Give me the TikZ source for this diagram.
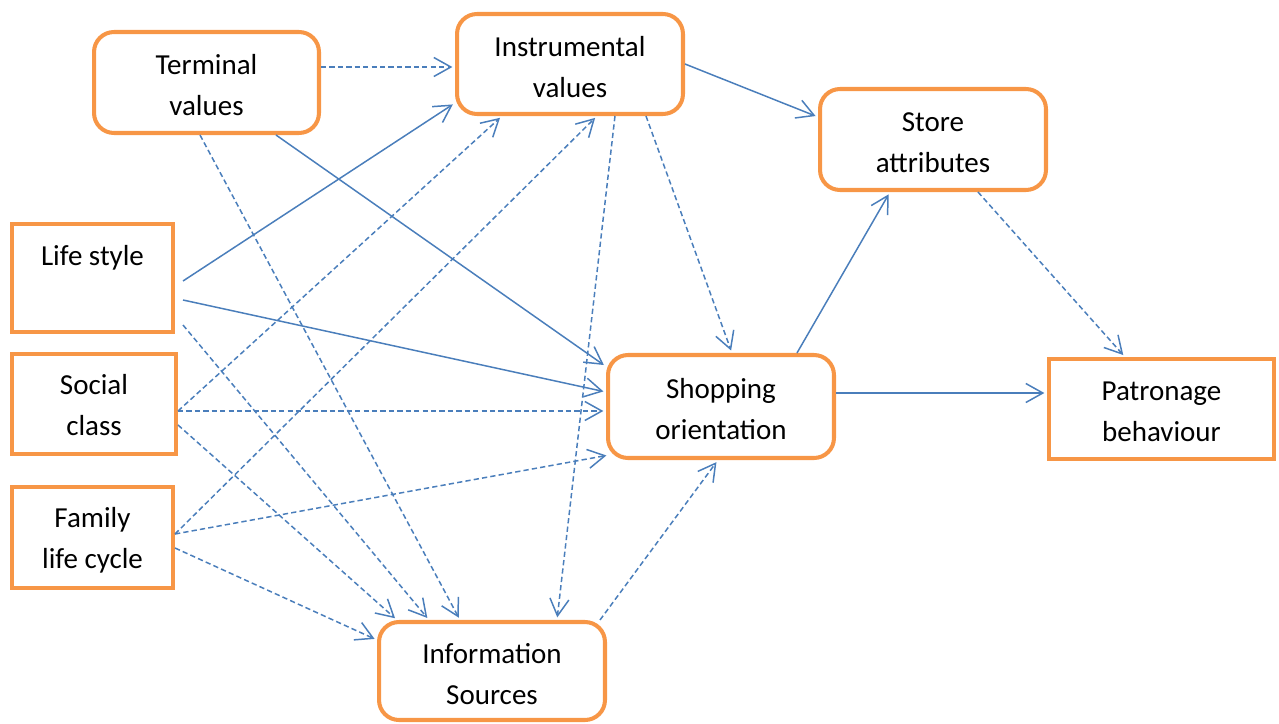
\documentclass[tikz,border=0pt]{standalone}
\usepackage{fontspec}
\setmainfont{Carlito}
\usetikzlibrary{arrows.meta}
\definecolor{boxorange}{HTML}{F79646}
\definecolor{linkblue}{HTML}{4A7EBB}
\newcommand{\boxtext}[2][-2.3pt]{\raisebox{#1}[\height][\depth]{\begin{tabular}{@{}c@{}}#2\end{tabular}}}

\begin{document}
\begin{tikzpicture}[x=0.02cm, y=-0.02cm,
  rbox/.style={rectangle, draw=boxorange, line width=2.3pt, rounded corners=0.4cm,
    align=center, minimum width=4.52cm, minimum height=2cm, inner sep=0pt,
    font=\fontsize{16.5}{23.3}\selectfont},
  sbox/.style={rbox, sharp corners},
  link/.style={->, draw=linkblue, line width=0.85pt, shorten >=1.5pt},
  dlink/.style={link, dash pattern=on 3pt off 1.8pt},
  >={Straight Barb[length=3.4mm,width=3.8mm]}
]
\useasboundingbox (0,0) rectangle (1279,724);
\node[rbox, minimum width=4.5cm, minimum height=2.02cm] (term) at (206.5,82.5) {\boxtext{Terminal\\values}};
\node[rbox] (instr) at (570,64) {\boxtext[-3pt]{Instrumental\\values}};
\node[rbox, minimum height=2.02cm] (store) at (933,139.5) {\boxtext{Store\\attributes}};
\node[rbox, minimum height=2.06cm] (shop) at (721,406.5) {\boxtext{Shopping\\orientation}};
\node[rbox, minimum height=1.96cm] (info) at (492,671) {\boxtext[-3pt]{Information\\Sources}};
\node[sbox, minimum width=4.5cm] (patr) at (1161.5,409) {\boxtext{Patronage\\behaviour}};
\node[sbox, minimum width=3.22cm, minimum height=2.16cm] (life) at (92.5,278) {\boxtext[0pt]{Life style\\\mbox{}}};
\node[sbox, minimum width=3.28cm] (social) at (94,404) {\boxtext[-1.8pt]{Social\\class}};
\node[sbox, minimum width=3.22cm, minimum height=2.02cm] (family) at (92.5,537.5) {\boxtext[-1.2pt]{Family\\life cycle}};
% values
\draw[dlink] ([yshift=0.31cm]term.east) -- ([yshift=0.31cm]term.east -| instr.west);
\draw[link] ([xshift=1.39cm]term.south) -- ([yshift=0.8cm]shop.west);
\draw[dlink] ([xshift=-0.13cm]term.south) -- ([xshift=-0.64cm]info.north);
% left column
\draw[link] ([xshift=0.16cm,yshift=-0.06cm]life.east) -- ([yshift=-0.78cm]instr.west);
\draw[link] ([xshift=0.16cm,yshift=-0.44cm]life.east) -- ([yshift=0.29cm]shop.west);
\draw[dlink] ([xshift=0.16cm,yshift=-0.94cm]life.east) -- ([xshift=-1.26cm]info.north);
\draw[dlink] ([yshift=-0.14cm]social.east) -- ([xshift=-1.36cm]instr.south);
\draw[dlink] ([yshift=-0.14cm]social.east) -- ([yshift=-0.14cm]social.east -| shop.west);
\draw[dlink] ([yshift=-0.42cm]social.east) -- ([xshift=-1.9cm]info.north);
\draw[dlink] ([yshift=0.07cm]family.east) -- ([xshift=0.54cm]instr.south);
\draw[dlink] ([yshift=0.07cm]family.east) -- ([xshift=0.06cm,yshift=0.1cm]shop.south west);
\draw[dlink] ([yshift=-0.21cm]family.east) -- ([yshift=0.62cm]info.west);
% right part
\draw[dlink] ([xshift=0.9cm]instr.south) -- ([xshift=1.3cm]info.north);
\draw[dlink] ([xshift=1.52cm]instr.south) -- ([xshift=0.22cm]shop.north);
\draw[link] (instr.east) -- ([yshift=0.45cm]store.west);
\draw[link] ([xshift=1.52cm]shop.north) -- ([xshift=-0.86cm]store.south);
\draw[link] ([yshift=0.27cm]shop.east) -- ([yshift=0.27cm]shop.east -| patr.west);
\draw[dlink] ([xshift=0.9cm]store.south) -- ([xshift=-0.73cm]patr.north);
\draw[dlink] ([xshift=-0.14cm]info.north east) -- ([xshift=-0.06cm]shop.south);
\end{tikzpicture}
\end{document}
